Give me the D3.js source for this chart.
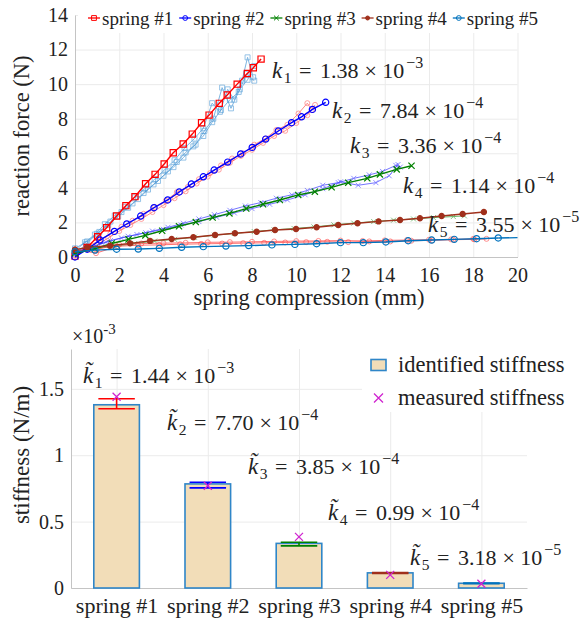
<!DOCTYPE html>
<html>
<head>
<meta charset="utf-8">
<script src="https://cdn.jsdelivr.net/npm/d3@7"></script>
<style>
body{margin:0;background:#fff}
svg text{font-family:"Liberation Serif","DejaVu Serif","Noto Serif",Times,serif;fill:#222}
</style>
</head>
<body>
<svg width="583" height="624"></svg>
<script>

// ---------- data: force vs compression (top panel) ----------
var springNames = ['spring #1','spring #2','spring #3','spring #4','spring #5']

// averaged curves (bold lines)
var s1x = [0, 0.55, 1.02, 1.43, 1.88, 2.30, 2.71, 3.19, 3.62, 4.03, 4.44, 4.89, 5.30, 5.72, 6.06, 6.52, 6.88, 7.33, 7.79, 8.06, 8.41]
var s1y = [0.05, 0.55, 1.17, 1.69, 2.37, 2.97, 3.49, 4.24, 4.78, 5.38, 6.03, 6.54, 7.11, 7.77, 8.21, 8.89, 9.37, 10.0, 10.62, 10.95, 11.45]
var s2x = [0, 0.55, 1.13, 1.78, 2.34, 2.97, 3.57, 4.19, 4.71, 5.26, 5.80, 6.29, 6.90, 7.49, 8.01, 8.62, 9.19, 9.79, 10.24, 10.73, 11.33]
var s2y = [0, 0.45, 0.98, 1.48, 1.91, 2.37, 2.85, 3.30, 3.76, 4.22, 4.64, 5.03, 5.49, 5.96, 6.34, 6.82, 7.29, 7.77, 8.11, 8.54, 8.95]
var s3x = [0, 0.90, 1.66, 2.42, 3.18, 3.94, 4.70, 5.46, 6.22, 6.98, 7.74, 8.50, 9.26, 10.09, 10.84, 11.60, 12.35, 13.21, 13.78, 14.54, 15.21]
var s3y = [0.22, 0.48, 0.78, 1.02, 1.25, 1.52, 1.78, 2.02, 2.28, 2.52, 2.80, 3.05, 3.30, 3.59, 3.78, 4.03, 4.30, 4.55, 4.78, 5.07, 5.28]
var s4x = [0, 0.55, 1.58, 2.49, 3.39, 4.37, 5.35, 6.33, 7.23, 8.21, 9.04, 9.99, 10.92, 11.90, 12.77, 13.72, 14.69, 15.59, 16.57, 17.52, 18.48]
var s4y = [0.42, 0.55, 0.65, 0.79, 0.93, 1.04, 1.14, 1.27, 1.37, 1.46, 1.56, 1.62, 1.72, 1.85, 1.95, 2.06, 2.14, 2.24, 2.37, 2.49, 2.60]
var s5x = [0, 0.90, 1.88, 2.86, 3.81, 4.82, 5.80, 6.82, 7.85, 8.90, 9.94, 10.92, 12.00, 13.03, 14.05, 15.06, 16.12, 17.14, 18.15, 19.13]
var s5y = [0.30, 0.40, 0.45, 0.46, 0.50, 0.56, 0.60, 0.63, 0.66, 0.70, 0.73, 0.77, 0.83, 0.83, 0.87, 0.94, 0.98, 1.02, 1.06, 1.10]
var s5tailX = [19.13, 20]
var s5tailY = [1.10, 1.12]

// individual trials (thin lines)
var t1aX = [0, 0.45, 0.9, 1.35, 1.8, 2.25, 2.7, 3.15, 3.6, 4.05, 4.5, 4.95, 5.4, 5.8, 6.2, 6.55, 6.9, 7.2, 7.55, 7.8, 8.05]
var t1aY = [0.35, 0.85, 1.3, 1.9, 2.4, 2.9, 3.45, 3.95, 4.5, 5.05, 5.6, 6.3, 6.85, 7.45, 8.9, 8.4, 9.7, 9.1, 10.2, 11.55, 10.4]
var t1bX = [0, 0.5, 1.0, 1.5, 1.95, 2.4, 2.85, 3.3, 3.75, 4.2, 4.6, 5.0, 5.45, 5.85, 6.25, 6.65, 7.05, 7.45, 7.8, 8.1]
var t1bY = [0.15, 0.75, 1.35, 1.85, 2.35, 2.85, 3.35, 3.9, 4.4, 4.95, 5.5, 6.05, 6.5, 7.3, 8.0, 9.8, 8.6, 9.7, 10.25, 11.05]
var t1cX = [0, 0.55, 1.1, 1.6, 2.1, 2.6, 3.1, 3.55, 4.0, 4.45, 4.9, 5.35, 5.8, 6.2, 6.6, 7.0, 7.4, 7.75, 8.1]
var t1cY = [0.5, 0.9, 1.45, 2.05, 2.6, 3.1, 3.7, 4.2, 4.7, 5.2, 5.75, 6.4, 7.0, 7.8, 8.5, 9.1, 9.55, 10.6, 10.2]
var t2aX = [0, 0.5, 1.0, 1.5, 2.0, 2.5, 3.0, 3.5, 4.0, 4.5, 5.0, 5.5, 6.0, 6.5, 7.0, 7.5, 8.0, 8.5, 9.0, 9.5, 10.0, 10.5, 10.85]
var t2aY = [0.3, 0.45, 0.7, 1.1, 1.5, 1.85, 2.2, 2.6, 3.0, 3.4, 3.8, 4.25, 4.65, 5.05, 5.45, 5.85, 6.2, 6.6, 7.0, 7.3, 7.75, 8.2, 8.8]
var t2bX = [0, 0.55, 1.1, 1.6, 2.1, 2.6, 3.1, 3.6, 4.1, 4.6, 5.1, 5.6, 6.1, 6.6, 7.1, 7.6, 8.1, 8.6, 9.1, 9.6, 10.1, 10.5, 10.7]
var t2bY = [0.1, 0.6, 0.95, 1.35, 1.75, 2.1, 2.5, 2.9, 3.25, 3.75, 4.05, 4.5, 4.85, 5.3, 5.7, 6.0, 6.5, 6.85, 7.35, 7.65, 8.3, 8.9, 8.5]
var t3aX = [0, 0.7, 1.4, 2.1, 2.8, 3.5, 4.2, 4.9, 5.6, 6.3, 7.0, 7.7, 8.4, 9.1, 9.8, 10.5, 11.2, 11.9, 12.6, 13.3, 13.9, 14.5, 14.7]
var t3aY = [0.15, 0.55, 0.85, 1.1, 1.3, 1.5, 1.72, 1.95, 2.2, 2.45, 2.7, 2.95, 3.15, 3.4, 3.6, 3.85, 4.15, 4.3, 4.55, 4.75, 4.95, 5.3, 5.2]
var t3bX = [0, 0.8, 1.6, 2.4, 3.2, 4.0, 4.8, 5.6, 6.4, 7.2, 8.0, 8.8, 9.6, 10.4, 11.2, 12.0, 12.8, 13.6, 14.2, 14.6]
var t3bY = [0.3, 0.6, 0.95, 1.2, 1.4, 1.6, 1.85, 2.05, 2.3, 2.55, 2.8, 3.05, 3.3, 3.6, 3.95, 4.35, 4.15, 4.3, 4.7, 5.35]
var t4aX = [0, 0.9, 1.8, 2.7, 3.6, 4.5, 5.4, 6.3, 7.2, 8.1, 9.0, 9.9, 10.8, 11.7, 12.6, 13.5, 14.4, 15.3, 16.2, 17.1, 17.6]
var t4aY = [0.3, 0.5, 0.62, 0.78, 0.92, 1.02, 1.14, 1.26, 1.36, 1.47, 1.57, 1.65, 1.74, 1.86, 1.96, 2.05, 2.13, 2.2, 2.28, 2.34, 2.38]
var t5aX = [0, 0.95, 1.9, 2.85, 3.8, 4.75, 5.7, 6.65, 7.6, 8.55, 9.5, 10.45, 11.4, 12.35, 13.3, 14.25, 15.2, 16.15, 17.1, 18.05, 18.6]
var t5aY = [0.45, 0.22, 0.62, 0.68, 0.7, 0.74, 0.76, 0.78, 0.8, 0.82, 0.84, 0.86, 0.88, 0.86, 0.9, 0.9, 0.94, 0.96, 1.0, 1.02, 1.05]
var t5bX = [0, 1.0, 2.0, 3.0, 4.0, 5.0, 6.0, 7.0, 8.0, 9.0, 10.0, 11.0, 12.0, 13.0, 14.0, 15.0, 16.0, 17.0, 18.0]
var t5bY = [0.35, 0.45, 0.72, 0.78, 0.8, 0.82, 0.85, 0.86, 0.88, 0.9, 0.92, 0.93, 0.95, 0.93, 0.96, 0.98, 1.0, 1.02, 1.05]

var kFit = ['1.38', '7.84', '3.36', '1.14', '3.55']
var kFitExp = ['3', '4', '4', '4', '5']

var xTicksTop = [0, 2, 4, 6, 8, 10, 12, 14, 16, 18, 20]
var yTicksTop = [0, 2, 4, 6, 8, 10, 12, 14]

// ---------- data: stiffness bars (bottom panel), units 1e-3 N/m ----------
var identified = [1.38, 0.784, 0.336, 0.114, 0.0355]
var errLow  = [1.35, 0.754, 0.317, 0.110, 0.033]
var errHigh = [1.425, 0.797, 0.345, 0.116, 0.037]
var measured = [1.44, 0.770, 0.385, 0.099, 0.0318]
var kMeas = ['1.44', '7.70', '3.85', '0.99', '3.18']
var kMeasExp = ['3', '4', '4', '4', '5']
var yTicksBottom = [0, 0.5, 1, 1.5]


// ---------- styles ----------
var serif = '"Liberation Serif","DejaVu Serif","Noto Serif",Times,serif'
var mainColor = ['#ff0000', '#0000ff', '#008000', '#a0301c', '#0072bd']
var mainMarker = ['square', 'circle', 'x', 'dot', 'circle']
var trialColor = ['#4a98d6', '#ff5c5c', '#4040ff', '#2e9a2e', '#ff3c3c']
var labelPosTop = [[272, 78], [332, 118], [350, 153], [403, 193], [428, 232]]
var labelPosBottom = [[83, 383], [167, 430], [248, 474], [328, 520], [410, 565]]

var mainSeries = [
  {x: s1x, y: s1y}, {x: s2x, y: s2y}, {x: s3x, y: s3y}, {x: s4x, y: s4y}, {x: s5x, y: s5y}
]
var trialSeries = [
  {s: 0, x: t1aX, y: t1aY}, {s: 0, x: t1bX, y: t1bY}, {s: 0, x: t1cX, y: t1cY},
  {s: 1, x: t2aX, y: t2aY}, {s: 1, x: t2bX, y: t2bY},
  {s: 2, x: t3aX, y: t3aY}, {s: 2, x: t3bX, y: t3bY},
  {s: 3, x: t4aX, y: t4aY},
  {s: 4, x: t5aX, y: t5aY}, {s: 4, x: t5bX, y: t5bY}
]

var svg = d3.select('svg')

//marker path, centered on 0,0
var markerPath = function(type, s){
  if (type == 'square') return 'M' + (-s) + ',' + (-s) + 'h' + 2*s + 'v' + 2*s + 'h' + (-2*s) + 'Z'
  if (type == 'x') return 'M' + (-s) + ',' + (-s) + 'L' + s + ',' + s + 'M' + (-s) + ',' + s + 'L' + s + ',' + (-s)
  return 'M' + s + ',0A' + s + ',' + s + ' 0 1 1 ' + (-s) + ',0A' + s + ',' + s + ' 0 1 1 ' + s + ',0Z'
}

var zip = function(xs, ys){ return xs.map(function(d, i){ return [d, ys[i]] }) }

//k label with sub/superscript, latex-like spacing; tilde as combining mark
var mathLabel = function(g, x, y, sub, mant, exp, tilde){
  var t = g.append('text').attr('x', x).attr('y', y).style('font-size', '22px').style('font-family', serif)
  t.append('tspan').style('font-style', 'italic').style('font-size', '23px').text(tilde ? 'k\u0303' : 'k')
  t.append('tspan').attr('dx', 1.5).attr('dy', 5).style('font-size', '15.5px').text(sub)
  t.append('tspan').attr('dx', 7.5).attr('dy', -5).text('=')
  t.append('tspan').attr('dx', 8.5).text(mant)
  t.append('tspan').attr('dx', 6).text('×')
  t.append('tspan').attr('dx', 5.5).text('10')
  t.append('tspan').attr('dx', 2).attr('dy', -10).style('font-size', '16px').text('−' + exp)
}

// ================= TOP PANEL =================
var xScale = d3.scaleLinear().domain([0, 20]).range([75, 517.5])
var yScale = d3.scaleLinear().domain([0, 14]).range([257, 15])

var topG = svg.append('g')

// grid
topG.append('g').attr('transform', 'translate(0,257)')
   .call(d3.axisBottom(xScale).tickValues(xTicksTop).tickSize(-242).tickFormat(''))
   .call(function(g){ g.select('.domain').remove(); g.selectAll('line').attr('stroke', '#ebebeb') })
topG.append('g').attr('transform', 'translate(75,0)')
   .call(d3.axisLeft(yScale).tickValues(yTicksTop).tickSize(-442.5).tickFormat(''))
   .call(function(g){ g.select('.domain').remove(); g.selectAll('line').attr('stroke', '#ebebeb') })

// axes
var xAxisTop = topG.append('g').attr('transform', 'translate(0,257)')
   .call(d3.axisBottom(xScale).tickValues(xTicksTop).tickSize(0).tickPadding(11))
var yAxisTop = topG.append('g').attr('transform', 'translate(75,0)')
   .call(d3.axisLeft(yScale).tickValues(yTicksTop).tickSize(0).tickPadding(7))
;[xAxisTop, yAxisTop].forEach(function(a){
  a.attr('font-family', null)
  a.select('.domain').attr('stroke', '#c4c4c4')
  a.selectAll('text').style('font-size', '20px').attr('fill', '#222').style('font-family', serif)
})

var line = d3.line().x(function(d){ return xScale(d[0]) }).y(function(d){ return yScale(d[1]) })

// trials under the averaged curves
trialSeries.forEach(function(t){
  var pts = zip(t.x, t.y)
  var g = topG.append('g').attr('opacity', 0.72)
  g.append('path').attr('d', line(pts)).attr('fill', 'none')
   .attr('stroke', trialColor[t.s]).attr('stroke-width', 1)
  g.selectAll('path.m').data(pts).enter().append('path')
   .attr('class', 'm')
   .attr('transform', function(d){ return 'translate(' + xScale(d[0]) + ',' + yScale(d[1]) + ')' })
   .attr('d', markerPath(mainMarker[t.s] == 'dot' ? 'x' : mainMarker[t.s], 2.5))
   .attr('fill', 'none').attr('stroke', trialColor[t.s]).attr('stroke-width', 0.8)
})

// tail of spring #5 line
topG.append('path').attr('d', line(zip(s5tailX, s5tailY))).attr('fill', 'none')
   .attr('stroke', mainColor[4]).attr('stroke-width', 1.3)

mainSeries.forEach(function(s, i){
  var pts = zip(s.x, s.y)
  topG.append('path').attr('d', line(pts)).attr('fill', 'none')
     .attr('stroke', mainColor[i]).attr('stroke-width', 1.4)
  topG.selectAll('path.mk' + i).data(pts).enter().append('path')
     .attr('class', 'mk' + i)
     .attr('transform', function(d){ return 'translate(' + xScale(d[0]) + ',' + yScale(d[1]) + ')' })
     .attr('d', markerPath(mainMarker[i] == 'dot' ? 'circle' : mainMarker[i], mainMarker[i] == 'dot' ? 2.6 : 3.1))
     .attr('fill', mainMarker[i] == 'dot' ? mainColor[i] : 'none')
     .attr('stroke', mainColor[i]).attr('stroke-width', 1.2)
})

// fitted stiffness labels
kFit.forEach(function(k, i){
  mathLabel(topG, labelPosTop[i][0], labelPosTop[i][1], String(i + 1), k, kFitExp[i], false)
})

// legend
var leg = topG.append('g')
leg.append('rect').attr('x', 78).attr('y', 2).attr('width', 470).attr('height', 31).attr('fill', '#fff')
springNames.forEach(function(n, i){
  var x0 = 88 + i * 91.2
  var gi = leg.append('g').attr('transform', 'translate(' + x0 + ',18)')
  gi.append('line').attr('x1', 0).attr('x2', 12).attr('stroke', mainColor[i]).attr('stroke-width', 1.3)
  gi.append('path').attr('transform', 'translate(6,0)')
    .attr('d', markerPath(mainMarker[i] == 'dot' ? 'circle' : mainMarker[i], mainMarker[i] == 'dot' ? 2 : 2.4))
    .attr('fill', mainMarker[i] == 'dot' ? mainColor[i] : 'none')
    .attr('stroke', mainColor[i]).attr('stroke-width', 1)
  gi.append('text').attr('x', 14).attr('y', 6.5).style('font-size', '19px').style('font-family', serif).text(n)
})

// axis titles
topG.append('text').attr('transform', 'translate(29,136) rotate(-90)').attr('text-anchor', 'middle')
   .style('font-size', '22.5px').style('font-family', serif).text('reaction force (N)')
topG.append('text').attr('x', 309).attr('y', 305).attr('text-anchor', 'middle')
   .style('font-size', '22.5px').style('font-family', serif).text('spring compression (mm)')

// ================= BOTTOM PANEL =================
var xb = d3.scaleLinear().domain([0.5, 5.5]).range([71, 527])
var yb = d3.scaleLinear().domain([0, 1.8]).range([588, 349])
var bot = svg.append('g')

bot.append('g').attr('transform', 'translate(0,588)')
   .call(d3.axisBottom(xb).tickValues([1, 2, 3, 4, 5]).tickSize(-239).tickFormat(''))
   .call(function(g){ g.select('.domain').remove(); g.selectAll('line').attr('stroke', '#ebebeb') })
bot.append('g').attr('transform', 'translate(71,0)')
   .call(d3.axisLeft(yb).tickValues(yTicksBottom).tickSize(-456).tickFormat(''))
   .call(function(g){ g.select('.domain').remove(); g.selectAll('line').attr('stroke', '#ebebeb') })

var xAxisB = bot.append('g').attr('transform', 'translate(0,588)')
   .call(d3.axisBottom(xb).tickValues([1, 2, 3, 4, 5]).tickSize(0).tickPadding(9)
     .tickFormat(function(d){ return springNames[d - 1] }))
var yAxisB = bot.append('g').attr('transform', 'translate(71,0)')
   .call(d3.axisLeft(yb).tickValues(yTicksBottom).tickSize(0).tickPadding(7).tickFormat(d3.format('')))
;[xAxisB, yAxisB].forEach(function(a){
  a.attr('font-family', null)
  a.select('.domain').attr('stroke', '#c4c4c4')
  a.selectAll('text').attr('fill', '#222').style('font-family', serif)
})
xAxisB.selectAll('text').style('font-size', '22px')
yAxisB.selectAll('text').style('font-size', '20px')

// bars
bot.selectAll('rect.bar').data(identified).enter().append('rect')
   .attr('class', 'bar')
   .attr('x', function(d, i){ return xb(i + 1 - 0.25) })
   .attr('width', xb(1.25) - xb(0.75))
   .attr('y', function(d){ return yb(d) })
   .attr('height', function(d){ return yb(0) - yb(d) })
   .attr('fill', '#f2ddb8').attr('stroke', '#2f86c8').attr('stroke-width', 1.6)

// error bars
identified.forEach(function(d, i){
  var cx = xb(i + 1), hw = xb(1.2) - xb(1)
  var g = bot.append('g').attr('stroke', mainColor[i]).attr('stroke-width', 1.6)
  g.append('line').attr('x1', cx).attr('x2', cx).attr('y1', yb(errLow[i])).attr('y2', yb(errHigh[i]))
  g.append('line').attr('x1', cx - hw).attr('x2', cx + hw).attr('y1', yb(errLow[i])).attr('y2', yb(errLow[i]))
  g.append('line').attr('x1', cx - hw).attr('x2', cx + hw).attr('y1', yb(errHigh[i])).attr('y2', yb(errHigh[i]))
})

// measured markers
bot.selectAll('path.meas').data(measured).enter().append('path')
   .attr('class', 'meas')
   .attr('transform', function(d, i){ return 'translate(' + xb(i + 1) + ',' + yb(d) + ')' })
   .attr('d', markerPath('x', 4))
   .attr('fill', 'none').attr('stroke', '#d024d0').attr('stroke-width', 1.3)

kMeas.forEach(function(k, i){
  mathLabel(bot, labelPosBottom[i][0], labelPosBottom[i][1], String(i + 1), k, kMeasExp[i], true)
})

// exponent label
var ex = bot.append('text').attr('x', 72).attr('y', 343).style('font-size', '20px').style('font-family', serif)
ex.append('tspan').text('×10')
ex.append('tspan').attr('dy', -9).style('font-size', '15px').text('-3')

// legend
var lb = bot.append('g')
lb.append('rect').attr('x', 362).attr('y', 349).attr('width', 170).attr('height', 63).attr('fill', '#fff')
lb.append('rect').attr('x', 371).attr('y', 359.5).attr('width', 15).attr('height', 11)
  .attr('fill', '#f2ddb8').attr('stroke', '#2f86c8').attr('stroke-width', 1.6)
lb.append('text').attr('x', 398).attr('y', 372).style('font-size', '22.5px').style('font-family', serif).text('identified stiffness')
lb.append('path').attr('transform', 'translate(378.5,398)').attr('d', markerPath('x', 4.5))
  .attr('fill', 'none').attr('stroke', '#d024d0').attr('stroke-width', 1.3)
lb.append('text').attr('x', 398).attr('y', 405).style('font-size', '22.5px').style('font-family', serif).text('measured stiffness')

bot.append('text').attr('transform', 'translate(29,455) rotate(-90)').attr('text-anchor', 'middle')
   .style('font-size', '23px').style('font-family', serif).text('stiffness (N/m)')

</script>
</body>
</html>
